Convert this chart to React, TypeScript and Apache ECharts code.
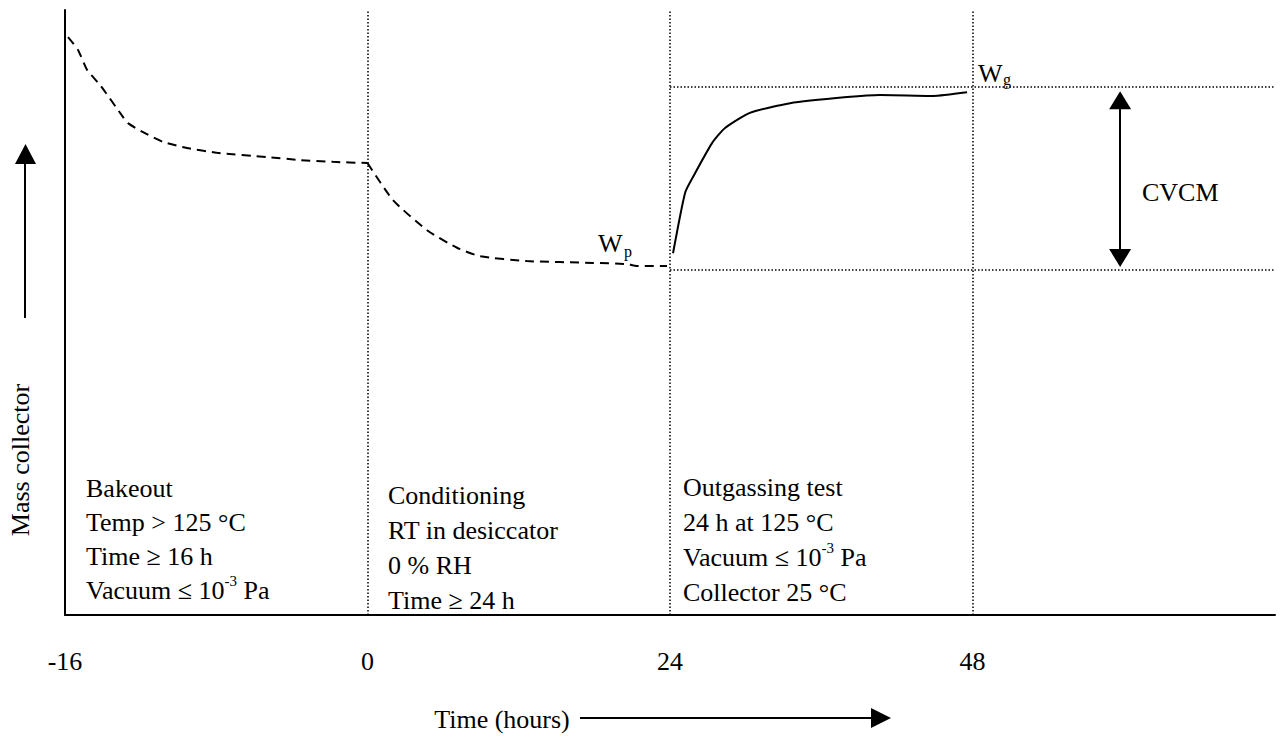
import React, { useEffect, useRef } from 'react';
import * as echarts from 'echarts';

// x positions are phase units: 0 = -16 h, 1 = 0 h, 2 = 24 h, 3 = 48 h
const phaseTicks = [0, 1, 2, 3, 4];
const tickLabels = ['-16', '0', '24', '48', ''];

// Bakeout (dashed)
const bakeoutX = [0.01, 0.043, 0.073, 0.116, 0.192, 0.208, 0.258, 0.324, 0.403, 0.502, 0.668, 0.777, 0.886, 1.0];
const bakeoutY = [95.5, 93.4, 90.1, 87.6, 82.3, 81.3, 79.8, 78.2, 77.2, 76.4, 75.7, 75.2, 74.9, 74.7];

// Conditioning (dashed)
const condX = [1.0, 1.084, 1.197, 1.296, 1.372, 1.527, 1.745, 1.858, 1.891, 1.99];
const condY = [74.7, 68.6, 63.6, 60.7, 59.3, 58.5, 58.2, 58.0, 57.7, 57.7];

// Outgassing test (solid)
const testX = [2.01, 2.05, 2.076, 2.139, 2.182, 2.264, 2.397, 2.585, 2.694, 2.869, 2.982];
const testY = [59.8, 69.8, 72.4, 78.0, 80.5, 83.0, 84.6, 85.6, 85.95, 85.8, 86.4];

// Reference levels
const levelWg = 87.3;
const levelWp = 57.0;
const cvcmX = 3.488;
const cvcmTop = 85.1;
const cvcmBottom = 59.0;
const phaseBoundaries = [1, 2, 3];

const FONT = '"Liberation Serif", "Times New Roman", serif';
const FS = 26;

const zip = (xs: number[], ys: number[]) => xs.map((x, i) => [x, ys[i]]);

export default function App() {
  const ref = useRef<HTMLDivElement>(null);
  useEffect(() => {
    if (!ref.current) return;
    const chart = echarts.init(ref.current, null, { renderer: 'svg' });
    const dotted = { color: '#000', width: 1.5, type: [1.5, 2] as any };
    const txt = (text: string, x: number, y: number, extra: any = {}) => ({
      type: 'text',
      x,
      y,
      silent: true,
      style: {
        text,
        fill: '#000',
        fontFamily: FONT,
        fontSize: FS,
        ...extra,
      },
    });
    const rich = {
      sup: { fontSize: 15, fontFamily: FONT, lineHeight: 20, verticalAlign: 'top' },
    };
    chart.setOption({
      animation: false,
      backgroundColor: '#fff',
      grid: { left: 65, right: 10, top: 10, bottom: 122, containLabel: false },
      xAxis: {
        type: 'value',
        min: phaseTicks[0],
        max: phaseTicks[phaseTicks.length - 1],
        interval: 1,
        axisLine: { show: true, lineStyle: { color: '#000', width: 2 } },
        axisTick: { show: false },
        splitLine: { show: false },
        axisLabel: {
          margin: 33,
          color: '#000',
          fontFamily: FONT,
          fontSize: FS,
          formatter: (v: number) => tickLabels[Math.round(v)] ?? '',
        },
      },
      yAxis: {
        type: 'value',
        min: 0,
        max: 100,
        axisLine: { show: true, lineStyle: { color: '#000', width: 2 } },
        axisTick: { show: false },
        axisLabel: { show: false },
        splitLine: { show: false },
      },
      series: [
        {
          type: 'line',
          data: zip(bakeoutX, bakeoutY),
          showSymbol: false,
          silent: true,
          smooth: 0.2,
          lineStyle: { color: '#000', width: 2, type: [9, 6] },
          markLine: {
            silent: true,
            symbol: ['triangle', 'triangle'],
            symbolSize: [22, 18],
            label: { show: false },
            lineStyle: { color: '#000', width: 2, type: 'solid' },
            data: [[{ coord: [cvcmX, cvcmBottom] }, { coord: [cvcmX, cvcmTop] }]],
          },
        },
        {
          type: 'line',
          data: zip(condX, condY),
          showSymbol: false,
          silent: true,
          smooth: 0.2,
          lineStyle: { color: '#000', width: 2, type: [9, 6] },
        },
        {
          type: 'line',
          data: zip(testX, testY),
          showSymbol: false,
          silent: true,
          smooth: 0.2,
          lineStyle: { color: '#000', width: 2, type: 'solid' },
          markLine: {
            silent: true,
            symbol: 'none',
            label: { show: false },
            lineStyle: dotted,
            data: [
              ...phaseBoundaries.map((b) => ({ xAxis: b })),
              [{ coord: [2, levelWg] }, { coord: [4, levelWg] }],
              [{ coord: [2, levelWp] }, { coord: [4, levelWp] }],
            ],
          },
        },
      ],
      graphic: [
        // y axis title + arrow
        {
          type: 'text',
          x: 20,
          y: 460,
          rotation: Math.PI / 2,
          silent: true,
          style: { text: 'Mass collector', fill: '#000', fontFamily: FONT, fontSize: FS, align: 'center', verticalAlign: 'middle' },
        },
        { type: 'line', silent: true, shape: { x1: 25, y1: 318, x2: 25, y2: 160 }, style: { stroke: '#000', lineWidth: 2 } },
        { type: 'polygon', silent: true, shape: { points: [[15, 164], [36, 164], [25.5, 144]] }, style: { fill: '#000' } },
        // x axis title + arrow
        {
          type: 'text',
          x: 502,
          y: 719,
          silent: true,
          style: { text: 'Time (hours)', fill: '#000', fontFamily: FONT, fontSize: FS, align: 'center', verticalAlign: 'middle' },
        },
        { type: 'line', silent: true, shape: { x1: 580, y1: 718, x2: 875, y2: 718 }, style: { stroke: '#000', lineWidth: 2 } },
        { type: 'polygon', silent: true, shape: { points: [[871, 708], [871, 728], [891, 718]] }, style: { fill: '#000' } },
        // phase descriptions
        txt('Bakeout\nTemp > 125 °C\nTime ≥ 16 h\nVacuum ≤ 10{sup|-3} Pa', 86, 471, { lineHeight: 34, verticalAlign: 'top', rich }),
        txt('Conditioning\nRT in desiccator\n0 % RH\nTime ≥ 24 h', 388, 478, { lineHeight: 35, verticalAlign: 'top' }),
        txt('Outgassing test\n24 h at 125 °C\nVacuum ≤ 10{sup|-3} Pa\nCollector 25 °C', 683, 470, { lineHeight: 35, verticalAlign: 'top', rich }),
        // labels
        txt('W', 598, 243, { verticalAlign: 'middle' }),
        txt('p', 624, 251, { fontSize: 16, verticalAlign: 'middle' }),
        txt('W', 978, 73, { verticalAlign: 'middle' }),
        txt('g', 1003, 79, { fontSize: 16, verticalAlign: 'middle' }),
        txt('CVCM', 1142, 192, { verticalAlign: 'middle' }),
      ],
    });
    return () => chart.dispose();
  }, []);
  return <div ref={ref} style={{ position: 'fixed', left: 0, top: 0, width: 1285, height: 737 }} />;
}
